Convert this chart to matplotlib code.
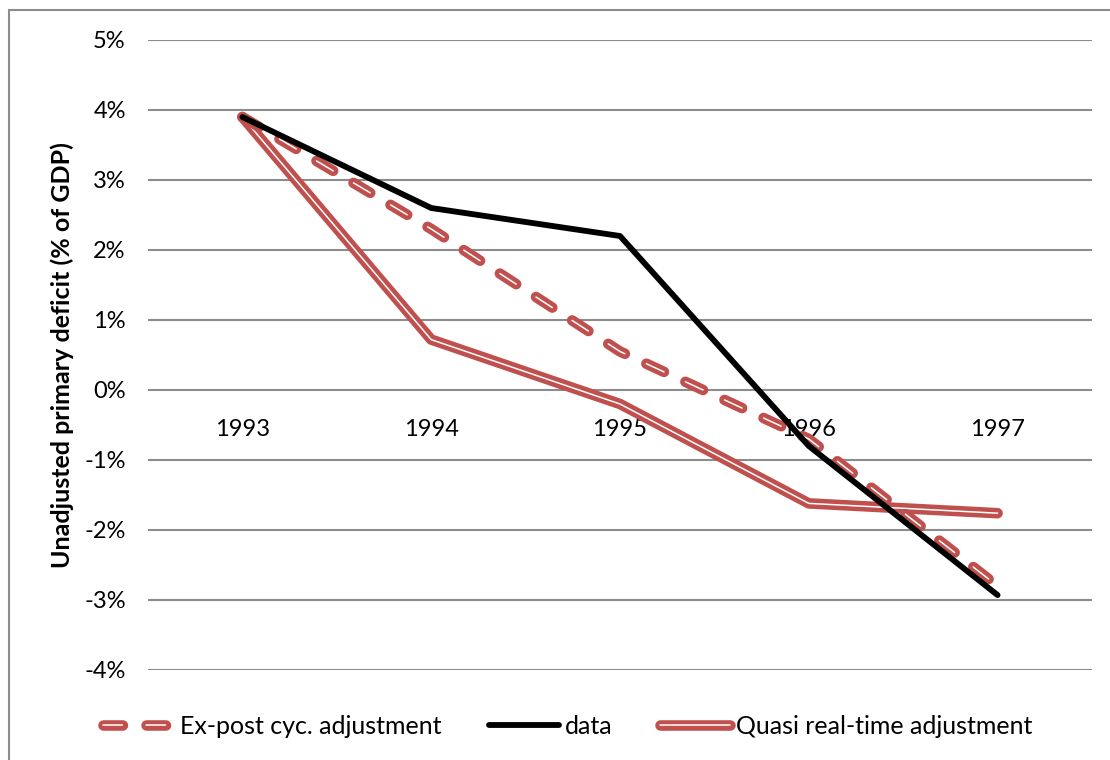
import matplotlib
matplotlib.use("Agg")
import matplotlib.pyplot as plt
from matplotlib.patches import Rectangle
from matplotlib.legend_handler import HandlerTuple

years = ["1993", "1994", "1995", "1996", "1997"]
ex_post = [3.9, 2.3, 0.55, -0.7, -2.8]
data_vals = [3.9, 2.6, 2.2, -0.8, -2.93]
quasi = [3.9, 0.72, -0.2, -1.62, -1.76]
yticks = [-4, -3, -2, -1, 0, 1, 2, 3, 4, 5]

RED = "#c0504d"
GRID = "#8c8c8c"
FS = 17

plt.rcParams['font.family'] = ['Lato', 'DejaVu Sans']
plt.rcParams['lines.scale_dashes'] = False

W, H = 1110, 760
fig = plt.figure(figsize=(W / 100, H / 100), dpi=100)
ax = fig.add_axes([148 / W, 1 - 670 / H, (1092 - 148) / W, (670 - 40) / H])

# outer chart border
fig.patches.append(Rectangle((9 / W, -0.1), 1.2, 1 - 10 / H + 0.1, transform=fig.transFigure,
                             fill=False, edgecolor=GRID, linewidth=1.5))

x = list(range(len(years)))
RW, WW = 7.6, 1.1
dash = (0, (14, 17))

e1, = ax.plot(x, ex_post, color=RED, lw=RW, linestyle=dash, dash_capstyle="round", zorder=3)
e2, = ax.plot(x, ex_post, color="white", lw=WW, linestyle=dash, dash_capstyle="round", zorder=3.1)
d1, = ax.plot(x, data_vals, color="black", lw=4.2, solid_capstyle="round", zorder=4)
q1, = ax.plot(x, quasi, color=RED, lw=RW, solid_capstyle="round", zorder=2)
q2, = ax.plot(x, quasi, color="white", lw=WW, solid_capstyle="round", zorder=2.1)

ax.set_xlim(-0.5, len(years) - 0.5)
ax.set_ylim(-4, 5)
ax.spines['bottom'].set_position(('data', 0))
ax.set_yticks(yticks)
ax.set_yticklabels([f"{v}%" for v in yticks])
ax.set_xticks(x)
ax.set_xticklabels(years)
for s in ['top', 'right', 'left', 'bottom']:
    ax.spines[s].set_visible(False)
ax.tick_params(axis='x', length=0, pad=21, labelsize=FS)
ax.tick_params(axis='y', length=0, pad=16, labelsize=FS)
ax.yaxis.grid(True, color=GRID, linewidth=1.5)
ax.set_axisbelow(True)

ax.set_ylabel("Unadjusted primary deficit (% of GDP)", fontsize=18, fontweight="bold")
ax.yaxis.set_label_coords((74 - 148) / (1092 - 148), 0.5)

leg = fig.legend([(e1, e2), d1, (q1, q2)],
                 ["Ex-post cyc. adjustment", "data", "Quasi real-time adjustment"],
                 handler_map={tuple: HandlerTuple(ndivide=1, pad=0)},
                 loc="center", bbox_to_anchor=(568 / W, 1 - 726 / H), ncol=3,
                 frameon=False, fontsize=18, handlelength=2.8, columnspacing=1.9,
                 handletextpad=0.25)

fig.savefig("out.png", dpi=100)
